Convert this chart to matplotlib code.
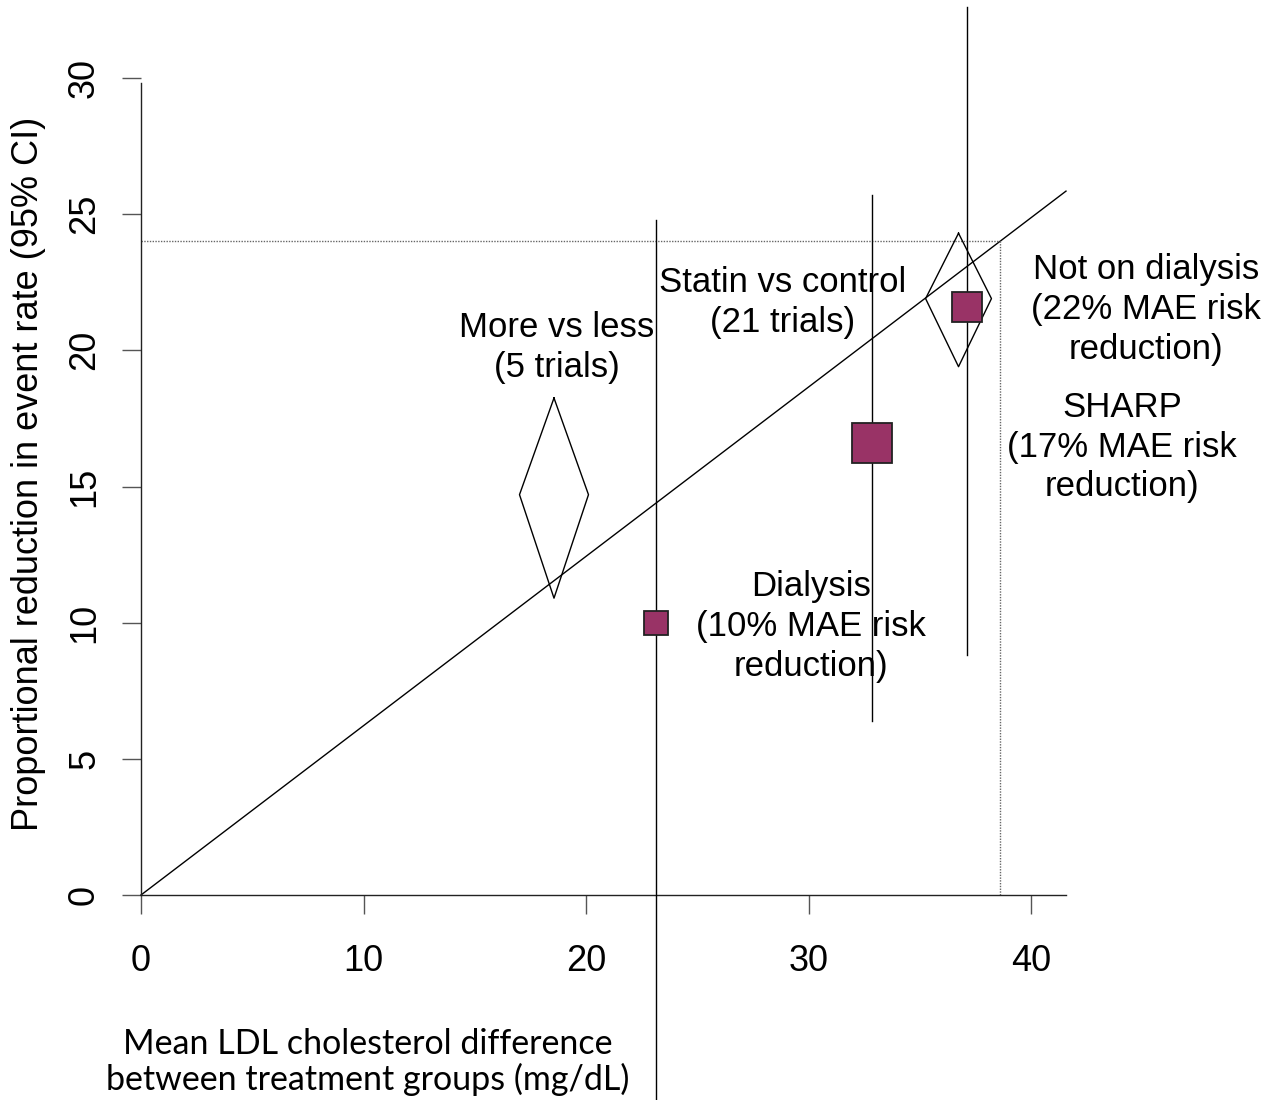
import matplotlib
matplotlib.use("Agg")
import matplotlib.pyplot as plt

plt.rcParams['font.family'] = ['Liberation Sans', 'DejaVu Sans']

# trial subgroups: LDL difference (mg/dL), risk reduction (%), CI bounds (%)
sq_x = [23.15, 32.85, 37.12]
sq_y = [10.0, 16.6, 21.6]
sq_lo = [-7.6, 6.4, 8.8]
sq_hi = [24.8, 25.7, 32.6]
sq_size = [17, 29, 21]
sq_labels = ["Dialysis\n(10% MAE risk\nreduction)",
             "SHARP\n(17% MAE risk\nreduction)",
             "Not on dialysis\n(22% MAE risk\nreduction)"]
sq_label_pos = [(30.1, 9.85), (44.1, 16.45), (45.15, 21.5)]

# meta-analysis diamonds: centre x, half width, lower, estimate, upper
dm_x = [18.56, 36.74]
dm_hw = [1.55, 1.48]
dm_lo = [10.9, 19.4]
dm_mid = [14.7, 21.9]
dm_hi = [18.25, 24.3]
dm_labels = ["More vs less\n(5 trials)", "Statin vs control\n(21 trials)"]
dm_label_pos = [(18.7, 20.1), (28.85, 21.75)]

# reference line through origin
ref_x = [0, 41.57]
ref_pt = (38.6, 24.0)

xticks = [0, 10, 20, 30, 40]
yticks = [0, 5, 10, 15, 20, 25, 30]

fig = plt.figure(figsize=(12.66, 11), dpi=100)
ax = fig.add_axes([141 / 1266, 205 / 1100, 925 / 1266, 817 / 1100])
ax.set_xlim(0, 41.57)
ax.set_ylim(0, 30)

for s in ["top", "right"]:
    ax.spines[s].set_visible(False)
ax.spines["left"].set_bounds(0, 29.8)
for s in ["left", "bottom"]:
    ax.spines[s].set_linewidth(1.0)
    ax.spines[s].set_color("#222222")

ax.set_xticks(xticks)
ax.set_yticks(yticks)
ax.set_yticklabels([str(v) for v in yticks], rotation=90, va="center")
ax.tick_params(axis="both", length=14, width=1.0, color="#555555", labelsize=26)
ax.tick_params(axis="x", pad=21)
ax.tick_params(axis="y", pad=14)

# slope line and guides to the 24% point
slope = ref_pt[1] / ref_pt[0]
ax.plot(ref_x, [v * slope for v in ref_x], color="black", lw=1.0, clip_on=False)
ax.plot([0, ref_pt[0]], [ref_pt[1], ref_pt[1]], color="#666666", lw=1.0,
        ls=(0, (1, 1)))
ax.plot([ref_pt[0], ref_pt[0]], [0, ref_pt[1]], color="#666666", lw=1.0,
        ls=(0, (1, 1)))

for x, hw, lo, mid, hi in zip(dm_x, dm_hw, dm_lo, dm_mid, dm_hi):
    ax.plot([x, x + hw, x, x - hw, x], [hi, mid, lo, mid, hi],
            color="black", lw=1.0, clip_on=False)

for x, y, lo, hi, ms in zip(sq_x, sq_y, sq_lo, sq_hi, sq_size):
    ax.plot([x, x], [lo, hi], color="black", lw=1.0, clip_on=False, zorder=3)
    ax.plot(x, y, marker="s", ms=ms, mfc="#993366", mec="#222222", mew=1.3,
            clip_on=False, zorder=4)

for txt, (x, y) in zip(dm_labels + sq_labels, dm_label_pos + sq_label_pos):
    ax.text(x, y, txt, ha="center", va="center", fontsize=25,
            linespacing=1.26, clip_on=False)

ax.set_ylabel("Proportional reduction in event rate (95% CI)", fontsize=26)
ax.yaxis.set_label_coords(-95 / 925, 0.515)

fig.text(368 / 1266, 1 - 1062 / 1100,
         "Mean LDL cholesterol difference\nbetween treatment groups (mg/dL)",
         family=["Lato", "DejaVu Sans"], fontsize=24.5, ha="center", va="center",
         linespacing=1.1)

fig.savefig("out.png", dpi=100)
